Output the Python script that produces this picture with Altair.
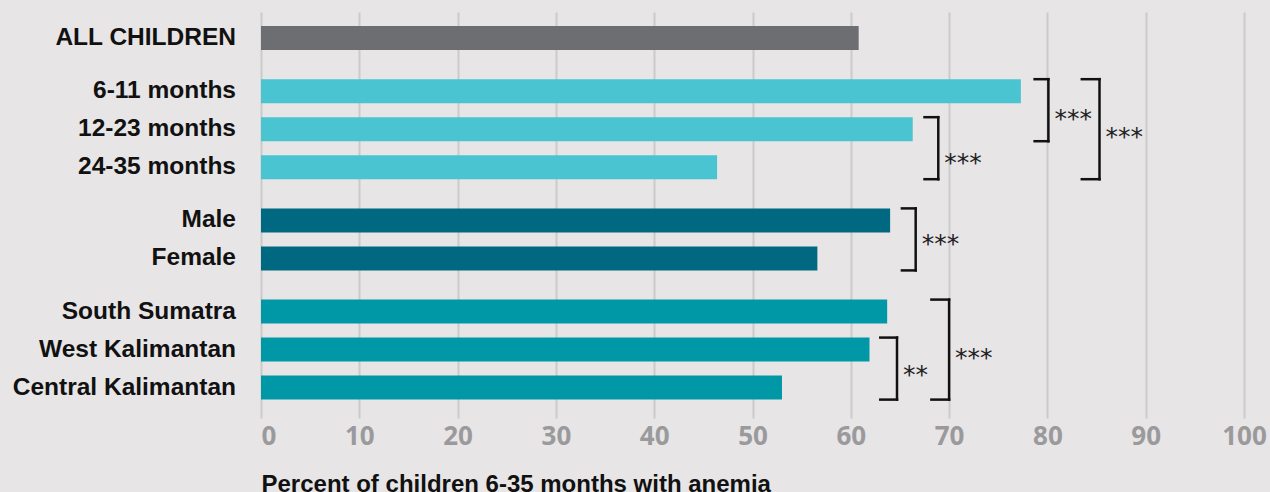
import altair as alt
import pandas as pd

# ---- data ----
categories = ["ALL CHILDREN", "6-11 months", "12-23 months", "24-35 months",
              "Male", "Female", "South Sumatra", "West Kalimantan", "Central Kalimantan"]
values = [60.8, 77.3, 66.3, 46.4, 64.0, 56.6, 63.7, 61.9, 53.0]
groups = ["All", "Age", "Age", "Age", "Sex", "Sex", "Province", "Province", "Province"]
group_order = ["All", "Age", "Sex", "Province"]
group_colors = ["#6d6e71", "#4ac4d0", "#006880", "#0098a7"]

# significance brackets
bracket_from = ["6-11 months", "12-23 months", "6-11 months", "Male", "West Kalimantan", "South Sumatra"]
bracket_to = ["12-23 months", "24-35 months", "24-35 months", "Female", "Central Kalimantan", "Central Kalimantan"]
bracket_x = [80.1, 68.9, 85.3, 66.6, 64.7, 70.0]
bracket_arm = [1.4, 1.4, 1.8, 1.4, 1.7, 1.8]
bracket_label = ["***", "***", "***", "***", "**", "***"]
label_shift = [0.07, 0.23, 0.05, -0.04, 0.0, 0.06]

axis_title = "Percent of children 6-35 months with anemia"

# ---- layout helpers ----
GAP = 0.4          # extra space between groups (in rows)
HALF = 0.316       # half bar thickness (in rows)
pos = []
for i, g in enumerate(groups):
    pos.append(i + GAP * group_order.index(g))
ymin, ymax = -26 / 38, 380 / 38

bars = pd.DataFrame({
    "category": categories, "value": values, "group": groups, "pos": pos,
})
bars["lo"] = bars["pos"] - HALF
bars["hi"] = bars["pos"] + HALF
bars["zero"] = 0

pmap = dict(zip(categories, pos))
br = pd.DataFrame({
    "x": bracket_x,
    "xa": [x - a for x, a in zip(bracket_x, bracket_arm)],
    "top": [pmap[c] - HALF for c in bracket_from],
    "bot": [pmap[c] + HALF for c in bracket_to],
    "label": bracket_label,
})
br["mid"] = (br["top"] + br["bot"]) / 2 + pd.Series(label_shift)

xs = alt.Scale(domain=[0, 100], nice=False, zero=True)
ys = alt.Scale(domain=[ymin, ymax], reverse=True, nice=False, zero=False)

base_bars = alt.Chart(bars)

bar_layer = base_bars.mark_rect().encode(
    x=alt.X("zero:Q", scale=xs,
            axis=alt.Axis(values=list(range(0, 101, 10)), grid=True, gridColor="#cbcbcc",
                          gridWidth=2, domain=False, ticks=False,
                          labelFont="Open Sans", labelFontSize=26, labelFontWeight="bold",
                          labelColor="#9a9a9d", labelPadding=5, labelFlush=False,
                          labelAlign=alt.expr("datum.value == 0 ? 'left' : 'center'"),
                          title=axis_title, titleFont="Liberation Sans", titleFontSize=24,
                          titleFontWeight="bold", titleColor="#111111",
                          titleAnchor="start", titleAlign="left", titleBaseline="alphabetic",
                          titleX=0, titleY=73)),
    x2="value:Q",
    y=alt.Y("lo:Q", scale=ys, axis=None),
    y2="hi:Q",
    color=alt.Color("group:N", scale=alt.Scale(domain=group_order, range=group_colors), legend=None),
)

label_layer = base_bars.mark_text(
    align="right", baseline="middle", font="Liberation Sans", fontSize=24.5,
    fontWeight="bold", color="#111111",
).encode(
    x=alt.value(-25),
    y=alt.Y("pos:Q", scale=ys, axis=None),
    text="category:N",
)

bb = alt.Chart(br)
vert = bb.mark_rule(color="#111111", strokeWidth=2.5, strokeCap="square").encode(
    x=alt.X("x:Q", scale=xs), y=alt.Y("top:Q", scale=ys), y2="bot:Q")
arm_top = bb.mark_rule(color="#111111", strokeWidth=2.5, strokeCap="square").encode(
    x=alt.X("xa:Q", scale=xs), x2="x:Q", y=alt.Y("top:Q", scale=ys))
arm_bot = bb.mark_rule(color="#111111", strokeWidth=2.5, strokeCap="square").encode(
    x=alt.X("xa:Q", scale=xs), x2="x:Q", y=alt.Y("bot:Q", scale=ys))
stars = bb.mark_text(align="left", baseline="alphabetic", font="DejaVu Sans",
                     fontSize=25, color="#222222", dx=6, dy=14).encode(
    x=alt.X("x:Q", scale=xs), y=alt.Y("mid:Q", scale=ys), text="label:N")

chart = alt.layer(bar_layer, label_layer, vert, arm_top, arm_bot, stars).properties(
    width=983, height=406,
    autosize=alt.AutoSizeParams(type="none"),
    padding={"left": 261, "top": 12, "right": 26, "bottom": 74},
    background="#e7e5e6",
).configure_view(stroke=None)

chart.save("out.html", embed_options={"renderer": "svg", "actions": False})
